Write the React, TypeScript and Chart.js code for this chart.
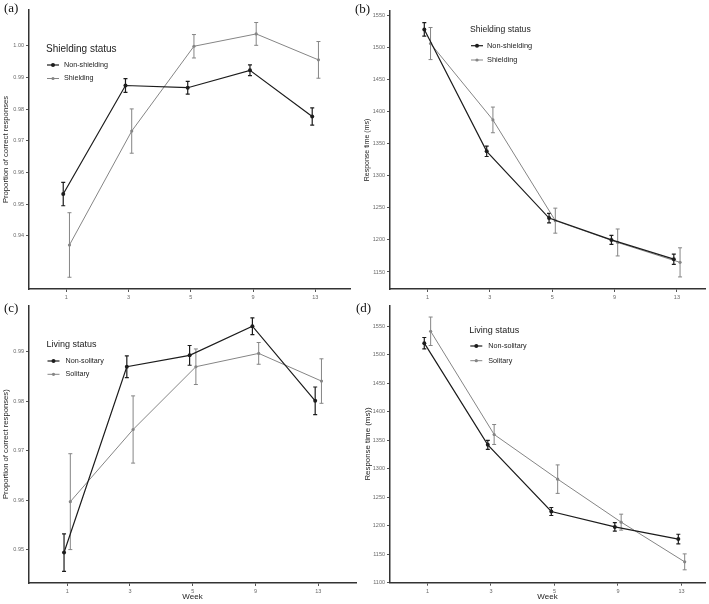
import React, { useEffect, useRef } from "react";
import { Chart, registerables } from "chart.js";

Chart.register(...registerables);

const FONT = "'Liberation Sans', Arial, sans-serif";

// ---------- data ----------
const weeks = ["1", "3", "5", "9", "13"];

// (a) proportion correct, shielding status
const aNonShieldingMean = [0.9532, 0.9875, 0.9868, 0.9923, 0.9777];
const aNonShieldingErr = [0.0037, 0.0022, 0.002, 0.0017, 0.0027];
const aShieldingMean = [0.9371, 0.9731, 0.9999, 1.0038, 0.9956];
const aShieldingErr = [0.0102, 0.007, 0.0037, 0.0036, 0.0058];
const aTicks = [0.94, 0.95, 0.96, 0.97, 0.98, 0.99, 1.0];

// (b) response time, shielding status
const bNonShieldingMean = [1528, 1338, 1234, 1200, 1170];
const bNonShieldingErr = [10.5, 8, 7.5, 7, 8];
const bShieldingMean = [1506, 1387, 1230, 1196, 1165];
const bShieldingErr = [25, 20, 19.5, 21, 22.7];
const bTicks = [1150, 1200, 1250, 1300, 1350, 1400, 1450, 1500, 1550];

// (c) proportion correct, living status
const cNonSolitaryMean = [0.9494, 0.987, 0.9893, 0.9952, 0.9801];
const cNonSolitaryErr = [0.0038, 0.0022, 0.002, 0.0017, 0.0028];
const cSolitaryMean = [0.9597, 0.9743, 0.987, 0.9897, 0.9841];
const cSolitaryErr = [0.0097, 0.0068, 0.0036, 0.0022, 0.0045];
const cTicks = [0.95, 0.96, 0.97, 0.98, 0.99];

// (d) response time, living status
const dNonSolitaryMean = [1520.5, 1342, 1225, 1198, 1176.6];
const dNonSolitaryErr = [10, 8, 7, 7.5, 8.5];
const dSolitaryMean = [1541.4, 1360.2, 1281.8, 1206.3, 1136.6];
const dSolitaryErr = [25, 17.5, 25, 14, 14];
const dTicks = [1100, 1150, 1200, 1250, 1300, 1350, 1400, 1450, 1500, 1550];

const DARK = "#1c1c1c";
const GREY = "#858585";
const DODGE = 0.05;

// ---------- plugins ----------
const errorBarPlugin = {
  id: "errorBars",
  beforeDatasetsDraw(chart: any) {
    const { ctx } = chart;
    const xs = chart.scales.x;
    const ys = chart.scales.y;
    chart.data.datasets.forEach((ds: any) => {
      ctx.save();
      ctx.strokeStyle = ds.borderColor;
      ctx.lineWidth = ds.errWidth || 1;
      ds.data.forEach((p: any, i: number) => {
        const e = ds.errors[i];
        const x = xs.getPixelForValue(p.x);
        const y1 = ys.getPixelForValue(p.y + e);
        const y2 = ys.getPixelForValue(p.y - e);
        ctx.beginPath();
        ctx.moveTo(x, y1);
        ctx.lineTo(x, y2);
        ctx.moveTo(x - 2, y1);
        ctx.lineTo(x + 2, y1);
        ctx.moveTo(x - 2, y2);
        ctx.lineTo(x + 2, y2);
        ctx.stroke();
      });
      ctx.restore();
    });
  },
};

const legendPlugin = {
  id: "panelLegend",
  afterDraw(chart: any, _args: any, opts: any) {
    const { ctx } = chart;
    ctx.save();
    ctx.textBaseline = "middle";
    ctx.textAlign = "left";
    ctx.fillStyle = "#222";
    ctx.font = `${opts.titleSize}px ${FONT}`;
    ctx.fillText(opts.title, opts.x, opts.y);
    chart.data.datasets.forEach((ds: any, i: number) => {
      const y = opts.entryY[i];
      const kx = opts.x + 1;
      ctx.strokeStyle = ds.borderColor;
      ctx.lineWidth = ds.borderWidth;
      ctx.beginPath();
      ctx.moveTo(kx, y);
      ctx.lineTo(kx + 12, y);
      ctx.stroke();
      ctx.fillStyle = ds.borderColor;
      ctx.beginPath();
      ctx.arc(kx + 6, y, ds.pointRadius, 0, Math.PI * 2);
      ctx.fill();
      ctx.fillStyle = "#222";
      ctx.font = `${opts.entrySize}px ${FONT}`;
      ctx.fillText(ds.label, opts.x + opts.textOffset, y);
    });
    ctx.restore();
  },
};

// ---------- panel ----------
type Series = { name: string; mean: number[]; err: number[]; color: string; width: number; radius: number; dodge: number };
type PanelCfg = {
  left: number; top: number; width: number; height: number;
  pad: { left: number; top: number; right: number; bottom: number };
  yWidth: number; xHeight: number;
  yMin: number; yMax: number; yTicks: number[]; decimals: number;
  xMin: number; xMax: number;
  yTitle: string; yTitleSize: number; xTitle: string;
  legend: { title: string; titleSize: number; entrySize: number; x: number; y: number; entryY: number[]; textOffset: number };
  series: Series[];
};

function Panel({ cfg }: { cfg: PanelCfg }) {
  const ref = useRef<HTMLCanvasElement>(null);
  useEffect(() => {
    if (!ref.current) return;
    const chart = new Chart(ref.current, {
      type: "line",
      data: {
        datasets: cfg.series.map((s) => ({
          label: s.name,
          data: s.mean.map((v, i) => ({ x: i + 1 + s.dodge, y: v })),
          errors: s.err,
          errWidth: s.width,
          borderColor: s.color,
          backgroundColor: s.color,
          borderWidth: s.width,
          pointRadius: s.radius,
          pointBorderWidth: 0,
          pointStyle: "circle",
          tension: 0,
        })) as any,
      },
      options: {
        animation: false,
        responsive: false,
        devicePixelRatio: 1,
        layout: { padding: cfg.pad },
        plugins: {
          legend: { display: false },
          tooltip: { enabled: false },
          panelLegend: cfg.legend,
        } as any,
        scales: {
          x: {
            type: "linear",
            min: cfg.xMin,
            max: cfg.xMax,
            afterBuildTicks: (s: any) => {
              s.ticks = weeks.map((_, i) => ({ value: i + 1 }));
            },
            afterFit: (s: any) => {
              s.height = cfg.xHeight;
            },
            ticks: {
              callback: (_v: any, i: number) => weeks[i],
              font: { size: 5.5, family: FONT },
              color: "#6a6a6a",
              padding: 2,
              maxRotation: 0,
              autoSkip: false,
            },
            grid: { display: true, drawOnChartArea: false, drawTicks: true, tickLength: 3, color: "#555" },
            border: { display: true, color: "#333", width: 1.5 },
            title: {
              display: !!cfg.xTitle,
              text: cfg.xTitle,
              font: { size: 8, family: FONT },
              color: "#222",
              padding: { top: 0, bottom: 2 },
            },
          },
          y: {
            type: "linear",
            min: cfg.yMin,
            max: cfg.yMax,
            afterBuildTicks: (s: any) => {
              s.ticks = cfg.yTicks.map((v) => ({ value: v }));
            },
            afterFit: (s: any) => {
              s.width = cfg.yWidth;
            },
            ticks: {
              callback: (v: any) => Number(v).toFixed(cfg.decimals),
              font: { size: 5.5, family: FONT },
              color: "#6a6a6a",
              padding: 2,
              autoSkip: false,
            },
            grid: { display: true, drawOnChartArea: false, drawTicks: true, tickLength: 3, color: "#555" },
            border: { display: true, color: "#333", width: 1.5 },
            title: {
              display: true,
              text: cfg.yTitle,
              font: { size: cfg.yTitleSize, family: FONT },
              color: "#222",
              padding: { top: 0, bottom: 0 },
            },
          },
        },
      } as any,
      plugins: [errorBarPlugin, legendPlugin],
    });
    return () => chart.destroy();
  }, [cfg]);
  return (
    <canvas
      ref={ref}
      width={cfg.width}
      height={cfg.height}
      style={{ position: "absolute", left: cfg.left, top: cfg.top, width: cfg.width, height: cfg.height }}
    />
  );
}

const panels: PanelCfg[] = [
  {
    left: 0, top: 0, width: 354, height: 300,
    pad: { left: 1.4, top: 10, right: 1, bottom: 0 }, yWidth: 27.6, xHeight: 11,
    yMin: 0.92319, yMax: 1.01136, yTicks: aTicks, decimals: 2,
    xMin: 0.4, xMax: 5.557,
    yTitle: "Proportion of correct responses", yTitleSize: 7.7, xTitle: "",
    legend: { title: "Shielding status", titleSize: 10, entrySize: 7.2, x: 46, y: 49.5, entryY: [65, 78.5], textOffset: 18 },
    series: [
      { name: "Non-shielding", mean: aNonShieldingMean, err: aNonShieldingErr, color: DARK, width: 1.2, radius: 2, dodge: -DODGE },
      { name: "Shielding", mean: aShieldingMean, err: aShieldingErr, color: GREY, width: 1, radius: 1.6, dodge: DODGE },
    ],
  },
  {
    left: 354, top: 0, width: 355, height: 300,
    pad: { left: 8.5, top: 11, right: 2, bottom: 0 }, yWidth: 27.5, xHeight: 11,
    yMin: 1123.5, yMax: 1556.7, yTicks: bTicks, decimals: 0,
    xMin: 0.4, xMax: 5.45,
    yTitle: "Response time (ms)", yTitleSize: 7, xTitle: "",
    legend: { title: "Shielding status", titleSize: 8.6, entrySize: 7.4, x: 116, y: 30, entryY: [45.7, 60], textOffset: 17 },
    series: [
      { name: "Non-shielding", mean: bNonShieldingMean, err: bNonShieldingErr, color: DARK, width: 1.2, radius: 2, dodge: -DODGE },
      { name: "Shielding", mean: bShieldingMean, err: bShieldingErr, color: GREY, width: 1, radius: 1.6, dodge: DODGE },
    ],
  },
  {
    left: 0, top: 300, width: 360, height: 304,
    pad: { left: 1.4, top: 3, right: 3, bottom: 0 }, yWidth: 27.6, xHeight: 21,
    yMin: 0.94324, yMax: 0.99943, yTicks: cTicks, decimals: 2,
    xMin: 0.392, xMax: 5.6,
    yTitle: "Proportion of correct responses)", yTitleSize: 7.7, xTitle: "Week",
    legend: { title: "Living status", titleSize: 9, entrySize: 7.2, x: 46.5, y: 45, entryY: [61, 74.3], textOffset: 19 },
    series: [
      { name: "Non-solitary", mean: cNonSolitaryMean, err: cNonSolitaryErr, color: DARK, width: 1.2, radius: 2, dodge: -DODGE },
      { name: "Solitary", mean: cSolitaryMean, err: cSolitaryErr, color: GREY, width: 1, radius: 1.6, dodge: DODGE },
    ],
  },
  {
    left: 354, top: 300, width: 355, height: 304,
    pad: { left: 8.6, top: 3, right: 2, bottom: 0 }, yWidth: 27.4, xHeight: 21.3,
    yMin: 1100, yMax: 1587, yTicks: dTicks, decimals: 0,
    xMin: 0.41, xMax: 5.37,
    yTitle: "Response time (ms))", yTitleSize: 7.9, xTitle: "Week",
    legend: { title: "Living status", titleSize: 9, entrySize: 7.2, x: 115.3, y: 30.7, entryY: [46, 60.7], textOffset: 19 },
    series: [
      { name: "Non-solitary", mean: dNonSolitaryMean, err: dNonSolitaryErr, color: DARK, width: 1.2, radius: 2, dodge: -DODGE },
      { name: "Solitary", mean: dSolitaryMean, err: dSolitaryErr, color: GREY, width: 1, radius: 1.6, dodge: DODGE },
    ],
  },
];

const panelLabels = [
  { text: "(a)", left: 4, top: 1.4 },
  { text: "(b)", left: 355, top: 2 },
  { text: "(c)", left: 4, top: 301 },
  { text: "(d)", left: 356, top: 301 },
];

export default function App() {
  return (
    <div style={{ position: "absolute", left: 0, top: 0, width: 709, height: 604, background: "#fff", overflow: "hidden" }}>
      {panels.map((p, i) => (
        <Panel key={i} cfg={p} />
      ))}
      {panelLabels.map((l) => (
        <div
          key={l.text}
          style={{
            position: "absolute",
            left: l.left,
            top: l.top,
            fontFamily: "'Liberation Serif', 'Times New Roman', serif",
            fontSize: 13,
            lineHeight: "13px",
            color: "#111",
          }}
        >
          {l.text}
        </div>
      ))}
    </div>
  );
}
